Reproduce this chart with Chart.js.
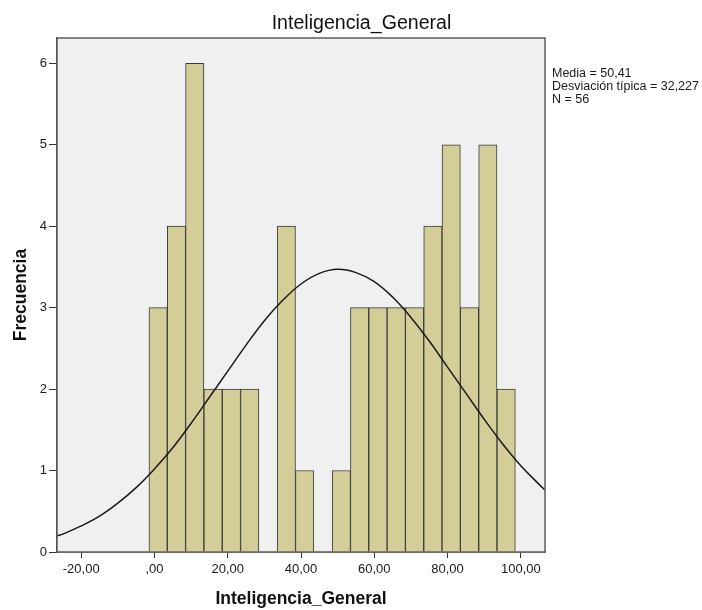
<!DOCTYPE html>
<html>
<head>
<meta charset="utf-8">
<title>Inteligencia_General</title>
<script src="https://cdn.jsdelivr.net/npm/chart.js@4.4.1/dist/chart.umd.min.js"></script>
<style>
    html, body { margin: 0; padding: 0; background: #ffffff; }
    #chart { display: block; }
</style>
</head>
<body>
<canvas id="chart" width="702" height="610"></canvas>
<script>
// Histogram bins (width 5), centre of each bin and its frequency
const binCenters = [1, 6, 11, 16, 21, 26, 31, 36, 41, 46, 51, 56, 61, 66, 71, 76, 81, 86, 91, 96];
const binCounts = [3, 4, 6, 2, 2, 2, 0, 4, 1, 0, 1, 3, 3, 3, 3, 4, 5, 3, 5, 2];

// Normal curve
const curveX = [-26.6, -25, -20, -15, -10, -5, 0, 5, 10, 15, 20, 25, 30, 35, 40, 45, 50, 55, 60, 65, 70, 75, 80, 85, 90, 95, 100, 105, 106.6];
const curveY = [0.20, 0.22, 0.32, 0.44, 0.60, 0.79, 1.02, 1.28, 1.58, 1.90, 2.22, 2.54, 2.84, 3.09, 3.29, 3.42, 3.47, 3.43, 3.32, 3.13, 2.88, 2.59, 2.27, 1.95, 1.63, 1.33, 1.06, 0.83, 0.76];

// Axis ticks
const xTickValues = [-20, 0, 20, 40, 60, 80, 100];
const yTickValues = [0, 1, 2, 3, 4, 5, 6];

const statLines = ["Media = 50,41", "Desviación típica = 32,227", "N = 56"];

const FONT = "'Liberation Sans', Arial, sans-serif";

// format like SPSS: 20,00 / ,00 / -20,00
function spssNumber(v) {
    if (v === 0) return ",00";
    return v.toFixed(2).replace(".", ",");
}

// background, frame, title and stats box
const spssFrame = {
    id: "spssFrame",
    beforeDatasetsDraw(chart) {
        const { ctx, chartArea: a } = chart;
        ctx.save();
        ctx.fillStyle = "#f0f0f0";
        ctx.fillRect(a.left, a.top, a.right - a.left, a.bottom - a.top);
        ctx.restore();
    },
    afterDraw(chart) {
        const { ctx, chartArea: a } = chart;
        ctx.save();
        ctx.strokeStyle = "#5e5e5e";
        ctx.lineWidth = 1.5;
        ctx.strokeRect(a.left, a.top, a.right - a.left, a.bottom - a.top);

        ctx.fillStyle = "#111111";
        ctx.font = "19.6px " + FONT;
        ctx.textAlign = "center";
        ctx.textBaseline = "alphabetic";
        ctx.fillText("Inteligencia_General", 361.5, 29);

        ctx.font = "12.5px " + FONT;
        ctx.textAlign = "left";
        ctx.fillStyle = "#1a1a1a";
        statLines.forEach((line, i) => {
            ctx.fillText(line, a.right + 7, 76.5 + i * 13);
        });
        ctx.restore();
    },
};

const ctx = document.getElementById("chart").getContext("2d");

new Chart(ctx, {
    type: "bar",
    data: {
        datasets: [
            {
                type: "line",
                data: curveX.map((x, i) => ({ x: x, y: curveY[i] })),
                borderColor: "#1a1a1a",
                borderWidth: 1.5,
                pointRadius: 0,
                tension: 0.4,
                fill: false,
                order: 0,
            },
            {
                type: "bar",
                data: binCenters.map((x, i) => ({ x: x, y: binCounts[i] === 0 ? null : binCounts[i] })),
                backgroundColor: "#d3ce98",
                borderColor: "#3a3a3a",
                borderWidth: 1,
                barPercentage: 1,
                categoryPercentage: 1,
                order: 1,
            },
        ],
    },
    options: {
        responsive: false,
        animation: false,
        devicePixelRatio: 1,
        layout: {
            padding: { top: 38, right: 157, bottom: 0, left: 0 },
        },
        scales: {
            x: {
                type: "linear",
                min: -26.6,
                max: 106.6,
                offset: false,
                afterBuildTicks: (scale) => {
                    scale.ticks = xTickValues.map((v) => ({ value: v }));
                },
                afterFit: (scale) => {
                    scale.height = 58;
                },
                ticks: {
                    callback: (v) => spssNumber(v),
                    color: "#1a1a1a",
                    font: { family: FONT, size: 13 },
                    padding: 4,
                    maxRotation: 0,
                    autoSkip: false,
                },
                grid: {
                    offset: false,
                    drawOnChartArea: false,
                    drawTicks: true,
                    tickLength: 6,
                    color: "#333333",
                },
                border: { display: true, color: "#333333", width: 1.5 },
                title: {
                    display: true,
                    text: "Inteligencia_General",
                    color: "#111111",
                    font: { family: FONT, size: 17.5, weight: "bold", lineHeight: 1.2 },
                    padding: { top: 0, bottom: 0.5 },
                },
            },
            y: {
                min: 0,
                max: 6.31,
                afterBuildTicks: (scale) => {
                    scale.ticks = yTickValues.map((v) => ({ value: v }));
                },
                afterFit: (scale) => {
                    scale.width = 57;
                },
                ticks: {
                    color: "#1a1a1a",
                    font: { family: FONT, size: 13 },
                    padding: 2,
                },
                grid: {
                    offset: false,
                    drawOnChartArea: false,
                    drawTicks: true,
                    tickLength: 8,
                    color: "#333333",
                },
                border: { display: true, color: "#333333", width: 1.5 },
                title: {
                    display: true,
                    text: "Frecuencia",
                    color: "#111111",
                    font: { family: FONT, size: 17.5, weight: "bold", lineHeight: 1.2 },
                    padding: { top: 10.3, bottom: 0 },
                },
            },
        },
        plugins: {
            legend: { display: false },
            tooltip: { enabled: false },
            title: { display: false },
        },
    },
    plugins: [spssFrame],
});
</script>
</body>
</html>
